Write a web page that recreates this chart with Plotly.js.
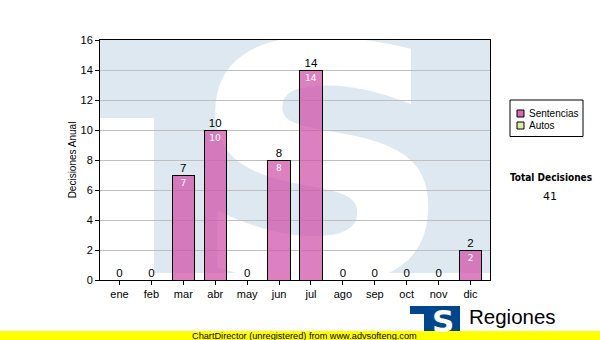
<!DOCTYPE html>
<html>
<head>
<meta charset="utf-8">
<script src="https://cdn.plot.ly/plotly-3.0.1.min.js"></script>
<style>html,body{margin:0;padding:0;background:#fff;}#chart{width:600px;height:340px;}</style>
</head>
<body>
<div id="chart"></div>
<script>
// ---- data ----
const months = ['ene','feb','mar','abr','may','jun','jul','ago','sep','oct','nov','dic'];
const sentencias = [0,0,7,10,0,8,14,0,0,0,0,2];
const autos = [0,0,0,0,0,0,0,0,0,0,0,0];
const seriesNames = ['Sentencias','Autos'];
const seriesColors = ['#D868B4','#DDF0A0'];
const totalLabel = 'Total Decisiones';
const yTitle = 'Decisiones Anual';
const yTicks = [0,2,4,6,8,10,12,14,16];

const total = sentencias.reduce((a,b)=>a+b,0) + autos.reduce((a,b)=>a+b,0);

// pixel -> paper helpers (plot area 100..490 x 40..280)
const PL=100, PR=490, PT=40, PB=280;
const px = x => (x-PL)/(PR-PL);
const py = y => (PB-y)/(PB-PT);

// watermark svg
const wm = `<svg xmlns="http://www.w3.org/2000/svg" width="390" height="240" viewBox="0 0 390 240" preserveAspectRatio="none">
<path d="M0,0 H390 V233 H54 V78 H0 Z" fill="#DEE8F1"/>
<text x="222" y="238" text-anchor="middle" font-family="DejaVu Sans" font-weight="bold" font-size="322" fill="#ffffff" stroke="#ffffff" stroke-width="5" transform="translate(222,0) scale(1.12,1) translate(-222,0)">S</text>
</svg>`;

const traces = [
  {
    type:'bar', x:months, y:sentencias, name:seriesNames[0],
    marker:{color:'rgba(208,84,168,0.74)', line:{color:'#000', width:1}},
    width:0.7,
    text: sentencias.map(v => v>0 ? String(v) : ''),
    textposition:'inside', insidetextanchor:'end', textangle:0,
    insidetextfont:{color:'#fff', size:9, family:'DejaVu Sans'},
    constraintext:'none',
    showlegend:false, hoverinfo:'skip'
  },
  {
    type:'bar', x:months, y:autos, name:seriesNames[1],
    marker:{color:seriesColors[1], line:{color:'#000', width:0}},
    width:0.7, showlegend:false, hoverinfo:'skip'
  },
  {
    type:'scatter', mode:'text', x:months,
    y: sentencias.map((v,i)=>v+autos[i]),
    text: sentencias.map((v,i)=>String(v+autos[i])),
    textposition:'top center',
    textfont:{color:'#000', size:11.5, family:'Liberation Sans, Arial'},
    showlegend:false, hoverinfo:'skip', cliponaxis:false
  }
];

const shapes = [
  // legend box
  {type:'rect', xref:'paper', yref:'paper', x0:px(510), x1:px(583), y0:py(100), y1:py(136.5), line:{color:'#000', width:1}, fillcolor:'#fff'},
  {type:'rect', xref:'paper', yref:'paper', x0:px(517), x1:px(524), y0:py(110), y1:py(117), line:{color:'#000', width:1}, fillcolor:seriesColors[0]},
  {type:'rect', xref:'paper', yref:'paper', x0:px(517), x1:px(524), y0:py(122), y1:py(129), line:{color:'#000', width:1}, fillcolor:seriesColors[1]},
  // logo
  {type:'rect', xref:'paper', yref:'paper', x0:px(410), x1:px(433), y0:py(306), y1:py(314), line:{width:0}, fillcolor:'#00468C'},
  {type:'rect', xref:'paper', yref:'paper', x0:px(424), x1:px(460), y0:py(306), y1:py(340), line:{width:0}, fillcolor:'#00468C'},
  // yellow band
  {type:'rect', xref:'paper', yref:'paper', x0:px(0), x1:px(600), y0:py(331), y1:py(341), line:{width:0}, fillcolor:'#FFFF00'}
];

const annotations = [
  {xref:'paper', yref:'paper', x:px(527), y:py(113.5), xanchor:'left', yanchor:'middle', text:seriesNames[0], showarrow:false, font:{size:10, color:'#000', family:'Liberation Sans, Arial'}},
  {xref:'paper', yref:'paper', x:px(527), y:py(125.5), xanchor:'left', yanchor:'middle', text:seriesNames[1], showarrow:false, font:{size:10, color:'#000', family:'Liberation Sans, Arial'}},
  {xref:'paper', yref:'paper', x:px(551), y:py(177), xanchor:'center', yanchor:'middle', text:'<b>'+totalLabel+'</b>', showarrow:false, font:{size:10, color:'#000', family:'DejaVu Sans Condensed, DejaVu Sans'}},
  {xref:'paper', yref:'paper', x:px(550), y:py(196), xanchor:'center', yanchor:'middle', text:String(total), showarrow:false, font:{size:11, color:'#000', family:'DejaVu Sans'}},
  {xref:'paper', yref:'paper', x:px(443), y:py(321), xanchor:'center', yanchor:'middle', text:'<b>S</b>', showarrow:false, font:{size:31, color:'#fff', family:'DejaVu Sans'}},
  {xref:'paper', yref:'paper', x:px(467), y:py(316), xanchor:'left', yanchor:'middle', text:'Regiones', showarrow:false, font:{size:20.5, color:'#000', family:'Liberation Sans, Arial'}},
  {xref:'paper', yref:'paper', x:px(190), y:py(335.5), xanchor:'left', yanchor:'middle', text:'ChartDirector (unregistered) from www.advsofteng.com', showarrow:false, font:{size:9.2, color:'#000', family:'Liberation Sans, Arial'}}
];

const layout = {
  width:600, height:340,
  margin:{l:100, r:110, t:40, b:60, pad:0},
  paper_bgcolor:'#fff', plot_bgcolor:'rgba(0,0,0,0)',
  barmode:'stack',
  showlegend:false,
  font:{family:'Liberation Sans, Arial', size:11, color:'#000'},
  xaxis:{
    type:'category', categoryorder:'array', categoryarray:months,
    showline:true, linecolor:'#000', linewidth:1, mirror:true,
    ticks:'outside', ticklen:4, tickcolor:'#000', showgrid:false,
    tickfont:{size:11, color:'#000'}, fixedrange:true
  },
  yaxis:{
    range:[0,16], tickvals:yTicks, ticktext:yTicks.map(String),
    showline:true, linecolor:'#000', linewidth:1, mirror:true,
    ticks:'outside', ticklen:4, tickcolor:'#000',
    showgrid:true, gridcolor:'#BEBEBE', gridwidth:1, zeroline:false,
    tickfont:{size:11, color:'#000'},
    title:{text:yTitle, font:{size:10, color:'#000'}, standoff:2},
    fixedrange:true
  },
  images:[{
    source:'data:image/svg+xml;utf8,'+encodeURIComponent(wm),
    xref:'paper', yref:'paper', x:0, y:1, sizex:1, sizey:1,
    xanchor:'left', yanchor:'top', sizing:'stretch', layer:'below'
  }],
  shapes:shapes,
  annotations:annotations
};

Plotly.newPlot('chart', traces, layout, {displayModeBar:false, staticPlot:true});
</script>
</body>
</html>
